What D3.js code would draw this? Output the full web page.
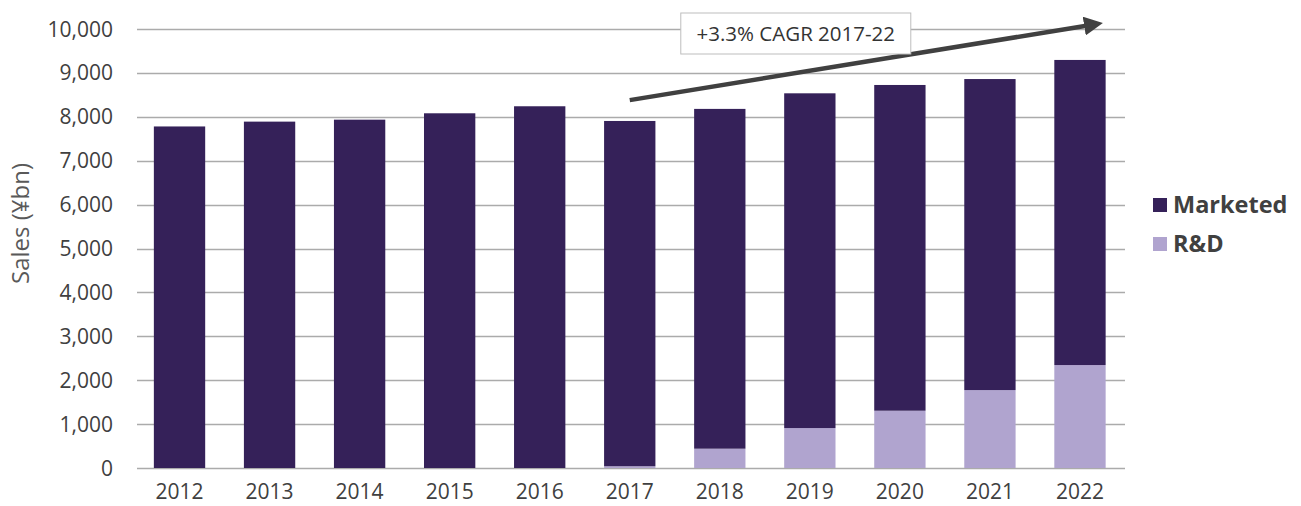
<!DOCTYPE html>
<html>
<head>
<meta charset="utf-8">
<script src="https://d3js.org/d3.v7.min.js"></script>
<style>
  body { margin: 0; background: #fff; }
  text { font-family: "Open Sans", Lato, sans-serif; }
</style>
</head>
<body>
<div id="chart"></div>
<script>
// chart data
var years = ["2012", "2013", "2014", "2015", "2016", "2017", "2018", "2019", "2020", "2021", "2022"];
var rnd = [0, 0, 0, 0, 0, 40, 440, 910, 1305, 1775, 2345];
var marketed = [7780, 7890, 7935, 8080, 8240, 7865, 7740, 7625, 7420, 7085, 6950];
var yTicks = [0, 1000, 2000, 3000, 4000, 5000, 6000, 7000, 8000, 9000, 10000];
var seriesNames = ["R&D", "Marketed"];
var colors = { "R&D": "#b0a4cf", "Marketed": "#352159" };

var width = 1301, height = 506;
var margin = { top: 29, right: 176, bottom: 38, left: 134.5 };

var svg = d3.select("#chart").append("svg")
    .attr("width", width)
    .attr("height", height);

var x = d3.scaleBand()
    .domain(years)
    .range([margin.left, width - margin.right])
    .paddingInner(0.43)
    .paddingOuter(0.215);

var y = d3.scaleLinear()
    .domain([0, 10000])
    .range([height - margin.bottom, margin.top]);

// gridlines
svg.append("g")
    .selectAll("line")
    .data(yTicks)
    .enter()
    .append("line")
    .attr("x1", 137)
    .attr("x2", width - margin.right)
    .attr("y1", function(d) { return Math.round(y(d)) + 0.5; })
    .attr("y2", function(d) { return Math.round(y(d)) + 0.5; })
    .attr("stroke", "#ababab")
    .attr("stroke-width", 1.3);

// stacked bars
var rows = years.map(function(yr, i) {
    return { year: yr, "R&D": rnd[i], "Marketed": marketed[i] };
});
var stack = d3.stack().keys(seriesNames);
var series = stack(rows);

svg.append("g")
    .selectAll("g")
    .data(series)
    .enter()
    .append("g")
    .attr("fill", function(d) { return colors[d.key]; })
    .selectAll("rect")
    .data(function(d) { return d; })
    .enter()
    .append("rect")
    .attr("x", function(d) { return x(d.data.year); })
    .attr("width", x.bandwidth())
    .attr("y", function(d) { return y(d[1]); })
    .attr("height", function(d) { return y(d[0]) - y(d[1]); });

// y tick labels
svg.append("g")
    .selectAll("text")
    .data(yTicks)
    .enter()
    .append("text")
    .attr("x", 113)
    .attr("y", function(d) { return y(d); })
    .attr("dy", "0.36em")
    .attr("text-anchor", "end")
    .attr("font-size", 21)
    .attr("fill", "#404040")
    .text(d3.format(","));

// x tick labels
svg.append("g")
    .selectAll("text")
    .data(years)
    .enter()
    .append("text")
    .attr("x", function(d) { return x(d) + x.bandwidth() / 2; })
    .attr("y", 499)
    .attr("text-anchor", "middle")
    .attr("font-size", 21)
    .attr("fill", "#404040")
    .text(function(d) { return d; });

// y axis title
svg.append("text")
    .attr("transform", "translate(29," + (y(5000) - 25) + ") rotate(-90)")
    .attr("text-anchor", "middle")
    .attr("font-size", 24)
    .attr("fill", "#595959")
    .text("Sales (¥bn)");

// legend
var legend = svg.append("g")
    .selectAll("g")
    .data(["Marketed", "R&D"])
    .enter()
    .append("g")
    .attr("transform", function(d, i) { return "translate(1153," + (205 + i * 39) + ")"; });

legend.append("rect")
    .attr("x", 0)
    .attr("y", -7)
    .attr("width", 14)
    .attr("height", 14)
    .attr("fill", function(d) { return colors[d]; });

legend.append("text")
    .attr("x", 20)
    .attr("y", 0)
    .attr("dy", "0.36em")
    .attr("font-size", 23.5)
    .attr("font-weight", "bold")
    .attr("fill", "#404040")
    .text(function(d) { return d; });

// CAGR arrow
svg.append("defs").append("marker")
    .attr("id", "arrowhead")
    .attr("viewBox", "0 0 10 10")
    .attr("refX", 2)
    .attr("refY", 5)
    .attr("markerWidth", 4.2)
    .attr("markerHeight", 4.2)
    .attr("orient", "auto")
    .append("path")
    .attr("d", "M0,0 L10,5 L0,10 Z")
    .attr("fill", "#404040");

var cx = function(yr) { return x(yr) + x.bandwidth() / 2; };
svg.append("line")
    .attr("x1", cx("2017"))
    .attr("y1", y(8380))
    .attr("x2", cx("2022") + 8)
    .attr("y2", y(10080))
    .attr("stroke", "#404040")
    .attr("stroke-width", 4.5)
    .attr("marker-end", "url(#arrowhead)");

// annotation box
var boxX = cx("2018") - 39, boxY = y(10000) - 16;
svg.append("rect")
    .attr("x", boxX)
    .attr("y", boxY)
    .attr("width", 230)
    .attr("height", 41)
    .attr("fill", "#fff")
    .attr("stroke", "#bdbdbd")
    .attr("stroke-width", 1);

svg.append("text")
    .attr("x", boxX + 115)
    .attr("y", boxY + 21)
    .attr("dy", "0.35em")
    .attr("text-anchor", "middle")
    .attr("font-size", 20.5)
    .attr("fill", "#333")
    .text("+3.3% CAGR 2017-22");
</script>
</body>
</html>
